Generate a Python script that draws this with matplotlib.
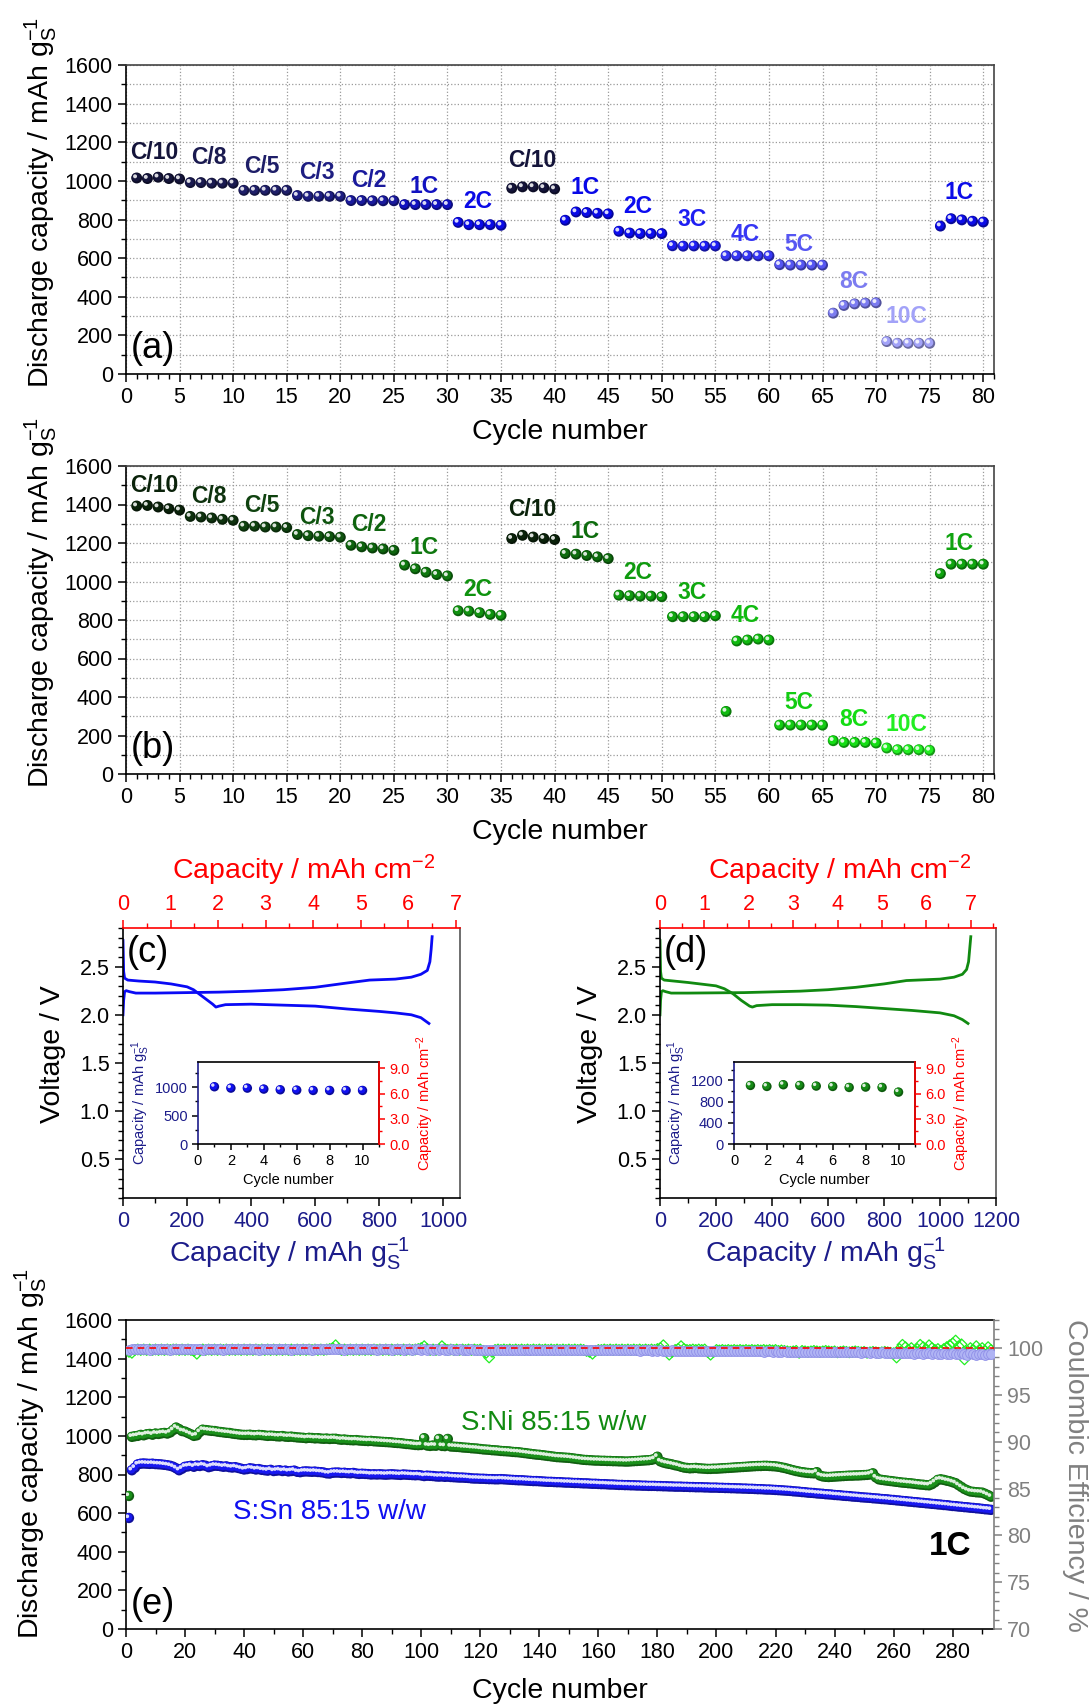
import numpy as np
import matplotlib
matplotlib.use('Agg')
import matplotlib.pyplot as plt
from matplotlib.ticker import MultipleLocator, FormatStrFormatter
from matplotlib.transforms import offset_copy
from matplotlib.colors import to_rgb

plt.rcParams['font.family'] = 'Liberation Sans'
plt.rcParams['mathtext.fontset'] = 'custom'
plt.rcParams['mathtext.rm'] = 'Liberation Sans'
plt.rcParams['mathtext.it'] = 'Liberation Sans:italic'
plt.rcParams['mathtext.bf'] = 'Liberation Sans:bold'

# ---------------- data: rate tests (a) S:Sn, (b) S:Ni ----------------
cycles_rate = np.arange(1, 81)
cap_sn_rate = [1015, 1012, 1019, 1012, 1010, 991, 991, 988, 988, 988,
               951, 951, 951, 951, 951, 924, 920, 920, 920, 920,
               898, 898, 897, 897, 897, 877, 877, 877, 877, 877,
               785, 773, 773, 773, 770, 962, 969, 969, 964, 958,
               796, 839, 836, 832, 829, 739, 730, 727, 727, 727,
               664, 662, 663, 662, 663, 612, 612, 612, 612, 612,
               566, 564, 564, 564, 564, 315, 355, 363, 367, 369,
               168, 159, 159, 159, 159, 766, 804, 798, 791, 787]
cap_ni_rate = [1392, 1395, 1387, 1378, 1371, 1338, 1335, 1330, 1323, 1318,
               1287, 1287, 1283, 1283, 1280, 1244, 1238, 1235, 1233, 1230,
               1188, 1180, 1174, 1169, 1162, 1085, 1066, 1048, 1036, 1029,
               848, 846, 838, 829, 824, 1223, 1240, 1231, 1223, 1218,
               1145, 1142, 1135, 1128, 1119, 929, 926, 924, 924, 921,
               817, 817, 817, 817, 822, 325, 691, 696, 701, 696,
               254, 254, 254, 254, 254, 173, 164, 164, 164, 161,
               135, 126, 126, 126, 123, 1041, 1090, 1090, 1090, 1090]
rate_labels = ['C/10', 'C/8', 'C/5', 'C/3', 'C/2', '1C', '2C', 'C/10',
               '1C', '2C', '3C', '4C', '5C', '8C', '10C', '1C']
label_x = [2.6, 7.7, 12.7, 17.8, 22.7, 27.8, 32.8, 37.9,
           42.8, 47.8, 52.8, 57.8, 62.8, 67.9, 72.8, 77.7]
sn_label_y = [1148, 1122, 1075, 1044, 1003, 971, 893, 1106,
              966, 868, 800, 722, 670, 478, 296, 940]
ni_label_y = [1501, 1444, 1397, 1335, 1294, 1179, 956, 1374,
              1262, 1049, 945, 821, 374, 281, 255, 1195]
sn_colors = ['#14143a', '#1a1a50', '#1e1e68', '#1e1e82', '#1a1a9c', '#1212c0', '#0a0ae6', '#14143a',
             '#0808e8', '#0c0cf0', '#1e1ef2', '#3636f4', '#5656f2', '#7c7cf0', '#a2a2f8', '#0c0ce8']
ni_colors = ['#0a220a', '#0e320e', '#0f420f', '#0f540f', '#0e640e', '#0f780f', '#0f920f', '#0a220a',
             '#0e6c0e', '#0f9a0f', '#0fa80f', '#10ba10', '#12cc12', '#14dd14', '#22ee22', '#10a410']

# ---------------- data: voltage profiles (c) S:Sn, (d) S:Ni ----------------
sn_dis_cap = [0, 2, 5, 15, 50, 100, 150, 200, 220, 240, 260, 280, 290, 300, 320, 400, 500, 600, 700, 800, 850, 900, 930, 955]
sn_dis_v = [2.77, 2.45, 2.38, 2.36, 2.35, 2.34, 2.32, 2.29, 2.26, 2.21, 2.16, 2.11, 2.08, 2.09, 2.105, 2.11, 2.10, 2.09, 2.06, 2.035, 2.02, 2.0, 1.97, 1.91]
sn_cha_cap = [0, 2, 5, 10, 20, 40, 100, 200, 300, 400, 500, 600, 700, 770, 850, 900, 930, 950, 958, 962, 965]
sn_cha_v = [2.0, 2.15, 2.24, 2.25, 2.24, 2.225, 2.225, 2.23, 2.235, 2.245, 2.26, 2.285, 2.33, 2.36, 2.37, 2.39, 2.42, 2.46, 2.55, 2.68, 2.81]
ni_dis_cap = [0, 2, 5, 15, 100, 200, 230, 260, 290, 320, 330, 345, 400, 500, 600, 700, 800, 900, 1000, 1050, 1080, 1100]
ni_dis_v = [2.77, 2.45, 2.38, 2.36, 2.335, 2.30, 2.27, 2.22, 2.15, 2.09, 2.08, 2.095, 2.105, 2.105, 2.10, 2.085, 2.065, 2.045, 2.02, 1.99, 1.95, 1.91]
ni_cha_cap = [0, 2, 5, 10, 20, 40, 100, 300, 500, 600, 700, 800, 880, 1000, 1050, 1080, 1095, 1102, 1106, 1110]
ni_cha_v = [2.0, 2.15, 2.24, 2.25, 2.24, 2.225, 2.225, 2.23, 2.245, 2.26, 2.285, 2.32, 2.355, 2.37, 2.39, 2.42, 2.47, 2.55, 2.68, 2.81]
inset_cycles = np.arange(1, 11)
sn_inset_cap = [1006, 982, 982, 965, 953, 947, 941, 941, 941, 941]
ni_inset_cap = [1105, 1086, 1118, 1105, 1093, 1086, 1067, 1074, 1067, 979]

# ---------------- data: long cycling at 1C (e) ----------------
cycles_long = np.arange(1, 294)
cap_sn_long = [575, 822, 835, 852, 856, 857, 856, 855, 856, 854,
               853, 852, 850, 848, 845, 840, 832, 822, 830, 840,
               842, 845, 840, 846, 844, 848, 845, 838, 842, 846,
               845, 843, 840, 842, 838, 836, 838, 834, 830, 826,
               828, 832, 830, 826, 828, 824, 822, 820, 824, 818,
               820, 822, 818, 820, 816, 818, 820, 814, 812, 815,
               816, 815, 814, 815, 813, 812, 810, 806, 805, 809,
               810, 810, 808, 809, 807, 806, 808, 805, 803, 804,
               803, 802, 800, 801, 800, 801, 800, 799, 800, 801,
               800, 799, 798, 800, 799, 798, 797, 796, 797, 795,
               792, 794, 793, 792, 790, 789, 790, 788, 789, 787,
               786, 785, 784, 784, 783, 782, 780, 779, 779, 778,
               778, 777, 776, 776, 775, 775, 776, 775, 774, 773,
               772, 771, 770, 770, 769, 768, 767, 766, 766, 765,
               764, 763, 762, 762, 761, 760, 760, 759, 758, 758,
               757, 756, 756, 755, 754, 754, 753, 752, 752, 751,
               750, 750, 749, 748, 748, 747, 746, 746, 745, 745,
               744, 744, 743, 743, 742, 742, 741, 741, 741, 740,
               740, 739, 739, 738, 738, 737, 737, 737, 736, 736,
               735, 735, 734, 734, 734, 733, 733, 732, 732, 732,
               731, 731, 730, 730, 729, 729, 728, 728, 727, 727,
               726, 726, 725, 724, 724, 723, 722, 722, 721, 720,
               719, 718, 717, 716, 715, 713, 712, 711, 709, 708,
               706, 705, 704, 702, 701, 700, 698, 697, 696, 694,
               693, 692, 690, 689, 688, 686, 685, 684, 682, 681,
               680, 679, 677, 676, 675, 673, 672, 671, 669, 668,
               666, 665, 663, 662, 660, 659, 657, 656, 654, 653,
               651, 650, 648, 647, 645, 644, 642, 641, 639, 637,
               636, 634, 633, 631, 630, 628, 627, 625, 624, 622,
               620, 619, 617]
cap_ni_long = [689, 995, 998, 1000, 1005, 1003, 1008, 1010, 1006, 1012,
               1010, 1013, 1015, 1012, 1018, 1030, 1043, 1035, 1025, 1022,
               1015, 1008, 1000, 1003, 1020, 1032, 1030, 1028, 1026, 1025,
               1022, 1020, 1018, 1016, 1015, 1012, 1010, 1008, 1006, 1005,
               1005, 1006, 1004, 1003, 1005, 1004, 1002, 1000, 1001, 1000,
               998, 997, 999, 996, 995, 996, 994, 992, 991, 990,
               988, 990, 989, 987, 988, 986, 985, 986, 984, 985,
               985, 982, 980, 981, 979, 978, 977, 978, 976, 975,
               974, 973, 974, 972, 971, 970, 969, 968, 967, 966,
               964, 963, 962, 960, 958, 957, 955, 953, 952, 953,
               988, 950, 948, 950, 949, 984, 948, 947, 984, 945,
               944, 943, 942, 940, 939, 938, 936, 935, 934, 932,
               930, 929, 928, 926, 925, 924, 922, 921, 920, 919,
               917, 916, 915, 913, 911, 909, 907, 905, 903, 902,
               900, 898, 896, 894, 892, 890, 889, 888, 887, 886,
               884, 882, 880, 878, 876, 875, 874, 873, 872, 872,
               871, 871, 870, 870, 869, 869, 868, 868, 867, 867,
               868, 869, 870, 871, 872, 873, 874, 876, 880, 892,
               868, 862, 858, 855, 852, 848, 845, 840, 836, 834,
               832, 833, 834, 832, 831, 830, 829, 829, 830, 830,
               831, 832, 833, 834, 835, 836, 837, 838, 839, 840,
               841, 842, 843, 844, 844, 845, 845, 844, 843, 842,
               840, 837, 834, 830, 826, 822, 818, 815, 812, 810,
               808, 807, 806, 812, 795, 790, 788, 787, 788, 789,
               790, 791, 792, 793, 794, 794, 795, 795, 796, 797,
               798, 800, 806, 785, 775, 772, 770, 768, 766, 764,
               762, 760, 758, 757, 755, 754, 752, 750, 748, 747,
               745, 744, 750, 760, 772, 775, 772, 768, 765, 760,
               755, 745, 735, 725, 718, 712, 710, 708, 707, 706,
               700, 693, 685]
ce_sn_long = [99.80, 99.86, 99.88, 99.85, 99.87, 99.89, 99.86, 99.84, 99.87, 99.88,
              99.85, 99.87, 99.89, 99.86, 99.84, 99.87, 99.88, 99.85, 99.86, 99.89,
              99.87, 99.85, 99.86, 99.88, 99.87, 99.84, 99.86, 99.89, 99.87, 99.85,
              99.88, 99.86, 99.84, 99.87, 99.89, 99.86, 99.85, 99.87, 99.88, 99.86,
              99.85, 99.87, 99.89, 99.86, 99.84, 99.87, 99.88, 99.86, 99.85, 99.87,
              99.86, 99.88, 99.85, 99.87, 99.86, 99.84, 99.87, 99.88, 99.86, 99.85,
              99.87, 99.86, 99.84, 99.88, 99.86, 99.85, 99.87, 99.86, 99.88, 99.85,
              99.86, 99.87, 99.85, 99.84, 99.87, 99.86, 99.88, 99.85, 99.86, 99.87,
              99.85, 99.86, 99.88, 99.85, 99.84, 99.86, 99.87, 99.85, 99.86, 99.84,
              99.86, 99.85, 99.87, 99.84, 99.86, 99.85, 99.83, 99.86, 99.85, 99.84,
              99.85, 99.83, 99.86, 99.84, 99.85, 99.83, 99.86, 99.84, 99.82, 99.85,
              99.84, 99.83, 99.85, 99.82, 99.84, 99.83, 99.85, 99.82, 99.84, 99.83,
              99.82, 99.84, 99.83, 99.81, 99.84, 99.82, 99.83, 99.81, 99.83, 99.82,
              99.81, 99.83, 99.82, 99.80, 99.83, 99.81, 99.82, 99.80, 99.82, 99.81,
              99.80, 99.82, 99.81, 99.79, 99.82, 99.80, 99.81, 99.79, 99.81, 99.80,
              99.79, 99.81, 99.78, 99.80, 99.79, 99.77, 99.80, 99.78, 99.79, 99.77,
              99.78, 99.76, 99.79, 99.77, 99.78, 99.76, 99.78, 99.75, 99.77, 99.76,
              99.77, 99.75, 99.76, 99.74, 99.77, 99.75, 99.76, 99.73, 99.75, 99.74,
              99.75, 99.73, 99.74, 99.72, 99.75, 99.73, 99.72, 99.74, 99.71, 99.73,
              99.72, 99.70, 99.73, 99.71, 99.70, 99.72, 99.69, 99.71, 99.70, 99.68,
              99.70, 99.68, 99.71, 99.67, 99.69, 99.68, 99.66, 99.69, 99.67, 99.65,
              99.68, 99.66, 99.64, 99.67, 99.65, 99.63, 99.66, 99.64, 99.62, 99.65,
              99.63, 99.61, 99.64, 99.62, 99.60, 99.63, 99.61, 99.59, 99.62, 99.60,
              99.58, 99.61, 99.59, 99.57, 99.60, 99.58, 99.56, 99.59, 99.57, 99.55,
              99.58, 99.56, 99.54, 99.57, 99.55, 99.53, 99.56, 99.54, 99.52, 99.55,
              99.53, 99.50, 99.54, 99.51, 99.48, 99.53, 99.50, 99.46, 99.52, 99.48,
              99.45, 99.51, 99.47, 99.43, 99.50, 99.46, 99.42, 99.49, 99.44, 99.40,
              99.48, 99.43, 99.38, 99.47, 99.42, 99.36, 99.46, 99.40, 99.34, 99.45,
              99.39, 99.33, 99.44, 99.38, 99.31, 99.43, 99.37, 99.30, 99.42, 99.36,
              99.30, 99.41, 99.35]
ce_ni_long = [99.6, 99.5, 99.8, 99.85, 99.8, 99.85, 99.8, 99.85, 99.8, 99.85,
              99.8, 99.85, 99.8, 99.85, 99.8, 99.85, 99.85, 99.8, 99.85, 99.8,
              99.85, 99.8, 99.7, 99.4, 99.8, 99.85, 99.8, 99.85, 99.8, 99.85,
              99.8, 99.85, 99.8, 99.85, 99.8, 99.85, 99.8, 99.85, 99.8, 99.85,
              99.8, 99.85, 99.8, 99.85, 99.8, 99.85, 99.8, 99.85, 99.8, 99.85,
              99.8, 99.85, 99.8, 99.85, 99.8, 99.85, 99.8, 99.85, 99.8, 99.85,
              99.8, 99.85, 99.8, 99.85, 99.8, 99.85, 99.8, 99.85, 99.9, 100.0,
              100.3, 99.9, 99.8, 99.85, 99.8, 99.85, 99.8, 99.85, 99.8, 99.85,
              99.8, 99.85, 99.8, 99.85, 99.8, 99.85, 99.8, 99.85, 99.8, 99.85,
              99.8, 99.85, 99.8, 99.85, 99.8, 99.85, 99.8, 99.85, 99.9, 100.0,
              100.2, 99.9, 99.8, 99.85, 99.8, 99.85, 100.2, 99.9, 99.8, 99.85,
              99.8, 99.85, 99.8, 99.85, 99.8, 99.85, 99.8, 99.85, 99.8, 99.85,
              99.7, 99.5, 99.0, 99.6, 99.8, 99.85, 99.8, 99.85, 99.8, 99.85,
              99.8, 99.85, 99.8, 99.85, 99.8, 99.85, 99.8, 99.85, 99.8, 99.85,
              99.8, 99.85, 99.8, 99.85, 99.8, 99.85, 99.8, 99.85, 99.8, 99.85,
              99.8, 99.85, 99.8, 99.85, 99.8, 99.7, 99.6, 99.4, 99.7, 99.8,
              99.8, 99.85, 99.8, 99.85, 99.8, 99.85, 99.8, 99.85, 99.8, 99.85,
              99.8, 99.85, 99.8, 99.85, 99.8, 99.85, 99.8, 99.85, 99.8, 99.9,
              100.0, 100.3, 99.7, 99.3, 99.6, 99.8, 99.9, 100.2, 99.9, 99.8,
              99.8, 99.85, 99.8, 99.85, 99.8, 99.85, 99.6, 99.3, 99.6, 99.8,
              99.75, 99.8, 99.75, 99.8, 99.75, 99.8, 99.75, 99.8, 99.75, 99.8,
              99.75, 99.8, 99.75, 99.8, 99.75, 99.8, 99.75, 99.8, 99.75, 99.8,
              99.7, 99.75, 99.7, 99.65, 99.6, 99.65, 99.7, 99.5, 99.7, 99.65,
              99.6, 99.65, 99.7, 99.65, 99.6, 99.65, 99.7, 99.65, 99.6, 99.65,
              99.55, 99.6, 99.65, 99.6, 99.55, 99.6, 99.65, 99.6, 99.55, 99.6,
              99.5, 99.55, 99.6, 99.55, 99.5, 99.55, 99.6, 99.55, 99.5, 99.45,
              99.0, 99.9, 100.35, 100.1, 99.8, 100.0, 99.7, 99.9, 100.35, 100.1,
              99.9, 100.3, 100.0, 99.8, 99.9, 99.7, 99.9, 100.1, 100.3, 100.5,
              100.8, 100.2, 100.4, 98.8, 99.7, 100.0, 99.8, 100.2, 99.8, 100.0,
              99.7, 100.1, 99.8]

# ---------------- layout helpers (pixel boxes of the 1092x1707 canvas) ----------------
W, H = 1092, 1707
fig = plt.figure(figsize=(W / 100, H / 100), dpi=100)


def box(l, t, r, b):
    return [l / W, 1 - b / H, (r - l) / W, (b - t) / H]


def ftext(x, y, s, **kw):
    fig.text(x / W, 1 - y / H, s, ha='center', va='center', **kw)


def darker(c, f):
    return tuple(v * f for v in to_rgb(c))


def balls(ax, x, y, colors, s):
    if isinstance(colors, str):
        colors = [colors] * len(x)
    ax.scatter(x, y, s=s, c=[darker(c, 0.65) for c in colors], edgecolors='none', zorder=3)
    tr1 = offset_copy(ax.transData, fig=fig, x=-0.5, y=0.5, units='points')
    ax.scatter(x, y, s=s * 0.62, c=colors, edgecolors='none', zorder=4, transform=tr1)
    tr2 = offset_copy(ax.transData, fig=fig, x=-1.2, y=1.2, units='points')
    ax.scatter(x, y, s=s * 0.13, c='white', alpha=0.85, edgecolors='none', zorder=5, transform=tr2)


def style(ax, size=15.5, major=6, minor=3.5):
    ax.tick_params(which='major', direction='out', length=major, width=1.1, labelsize=size)
    ax.tick_params(which='minor', direction='out', length=minor, width=1.0)
    for sp in ax.spines.values():
        sp.set_linewidth(1.2)


LBL = 20.5
sub = r'g$_\mathregular{S}^\mathregular{-1}$'

# ---------------- (a) and (b) rate capability ----------------
for top, bottom, caps, cols, ly, tag in [(65, 374, cap_sn_rate, sn_colors, sn_label_y, '(a)'),
                                         (466, 774, cap_ni_rate, ni_colors, ni_label_y, '(b)')]:
    ax = fig.add_axes(box(126, top, 994, bottom))
    ax.set_xlim(0, 81)
    ax.set_ylim(0, 1600)
    ax.xaxis.set_major_locator(MultipleLocator(5))
    ax.xaxis.set_minor_locator(MultipleLocator(1))
    ax.yaxis.set_major_locator(MultipleLocator(200))
    ax.yaxis.set_minor_locator(MultipleLocator(100))
    ax.grid(axis='x', which='major', ls=':', color='#9a9a9a', lw=0.9)
    ax.grid(axis='y', which='both', ls=':', color='#9a9a9a', lw=0.9)
    ax.set_axisbelow(True)
    style(ax)
    for sp in ['top', 'right']:
        ax.spines[sp].set_color('#444444')
    pt_cols = [cols[(c - 1) // 5] for c in cycles_rate]
    balls(ax, cycles_rate, caps, pt_cols, 62)
    for lab, x, y, c in zip(rate_labels, label_x, ly, cols):
        ax.text(x, y, lab, color=c, fontsize=16.5, fontweight='bold', ha='center', va='center')
    ax.text(0.006, 0.082, tag, transform=ax.transAxes, fontsize=26, ha='left', va='center')
    mid = (top + bottom) / 2
    ftext(41, mid - 17, 'Discharge capacity / mAh ' + sub, fontsize=LBL, rotation=90)
    ftext(560, bottom + 58, 'Cycle number', fontsize=LBL)

# ---------------- (c) and (d) voltage profiles with insets ----------------
navy = '#1c1c8a'
panels = [(123, 460, 1052, 7.09, sn_dis_cap, sn_dis_v, sn_cha_cap, sn_cha_v, '#0a0af5',
           sn_inset_cap, 1441, 500, 250, (198, 379), '(c)', '#1010f0'),
          (660, 996, 1200, 7.571, ni_dis_cap, ni_dis_v, ni_cha_cap, ni_cha_v, '#118a11',
           ni_inset_cap, 1547, 400, 200, (734, 915), '(d)', '#168c16')]
for (l, r, xmax, tmax, dc, dv, cc, cv, lc, icap, itop, imaj, imin, ixr, tag, bc) in panels:
    ax = fig.add_axes(box(l, 928, r, 1198))
    ax.plot(dc, dv, color=lc, lw=2)
    ax.plot(cc, cv, color=lc, lw=2)
    ax.set_xlim(0, xmax)
    ax.set_ylim(0.1, 2.9)
    ax.xaxis.set_major_locator(MultipleLocator(200))
    ax.xaxis.set_minor_locator(MultipleLocator(100))
    ax.yaxis.set_major_locator(MultipleLocator(0.5))
    ax.yaxis.set_minor_locator(MultipleLocator(0.1))
    ax.yaxis.set_major_formatter(FormatStrFormatter('%.1f'))
    style(ax)
    ax.tick_params(axis='x', labelcolor=navy)
    ax.spines['top'].set_visible(False)
    ax.spines['right'].set_color('#555555')
    ax.text(0.012, 0.91, tag, transform=ax.transAxes, fontsize=26, ha='left', va='center')
    tx = ax.twiny()
    tx.set_xlim(0, tmax)
    tx.xaxis.set_major_locator(MultipleLocator(1))
    tx.xaxis.set_minor_locator(MultipleLocator(0.5))
    style(tx)
    tx.tick_params(axis='x', which='both', colors='red')
    for sp in ['left', 'right', 'bottom']:
        tx.spines[sp].set_visible(False)
    tx.spines['top'].set_color('red')
    cx = (l + r) / 2
    ftext(l - 70, 1054, 'Voltage / V', fontsize=LBL, rotation=90)
    ftext(cx - 2, 1254, 'Capacity / mAh ' + sub, fontsize=LBL, color=navy)
    ftext(cx + 12, 870, 'Capacity / mAh cm$^\\mathregular{-2}$', fontsize=LBL, color='red')

    ia = fig.add_axes(box(ixr[0], 1062, ixr[1], 1144))
    balls(ia, inset_cycles, icap, bc, 46)
    ia.set_xlim(0, 11)
    ia.set_ylim(0, itop)
    ia.xaxis.set_major_locator(MultipleLocator(2))
    ia.xaxis.set_minor_locator(MultipleLocator(1))
    ia.yaxis.set_major_locator(MultipleLocator(imaj))
    ia.yaxis.set_minor_locator(MultipleLocator(imin))
    style(ia, size=10.5, major=4, minor=2.5)
    ia.tick_params(axis='y', labelcolor=navy)
    ia.spines['left'].set_color(navy)
    ia.set_xlabel('Cycle number', fontsize=10.5, labelpad=3)
    ia.set_ylabel('Capacity / mAh ' + sub, fontsize=10.5, color=navy, labelpad=2)
    ir = ia.twinx()
    ir.set_ylim(0, 9.76)
    ir.yaxis.set_major_locator(MultipleLocator(3))
    ir.yaxis.set_minor_locator(MultipleLocator(1.5))
    ir.yaxis.set_major_formatter(FormatStrFormatter('%.1f'))
    style(ir, size=10.5, major=4, minor=2.5)
    ir.tick_params(axis='y', which='both', colors='red')
    for sp in ['left', 'top', 'bottom']:
        ir.spines[sp].set_visible(False)
    ir.spines['right'].set_color('red')
    ir.set_ylabel('Capacity / mAh cm$^\\mathregular{-2}$', fontsize=10.5, color='red', labelpad=3)

# ---------------- (e) long-term cycling ----------------
ax = fig.add_axes(box(126, 1320, 994, 1629))
ax.set_xlim(0, 294)
ax.set_ylim(0, 1600)
ax.xaxis.set_major_locator(MultipleLocator(20))
ax.xaxis.set_minor_locator(MultipleLocator(10))
ax.yaxis.set_major_locator(MultipleLocator(200))
ax.yaxis.set_minor_locator(MultipleLocator(100))
style(ax)
ax.spines['right'].set_visible(False)
balls(ax, cycles_long, cap_ni_long, '#1a901a', 56)
balls(ax, cycles_long, cap_sn_long, '#1818f0', 56)
ax.text(145, 1067, 'S:Ni 85:15 w/w', color='#118a11', fontsize=20, ha='center', va='center')
ax.text(69, 606, 'S:Sn 85:15 w/w', color='#1010f0', fontsize=20, ha='center', va='center')
ax.text(279, 426, '1C', color='black', fontsize=24, fontweight='bold', ha='center', va='center')
ax.text(0.006, 0.078, '(e)', transform=ax.transAxes, fontsize=26, ha='left', va='center')

ce = ax.twinx()
ce.set_ylim(70, 103)
ce.yaxis.set_major_locator(MultipleLocator(5))
ce.yaxis.set_minor_locator(MultipleLocator(1))
style(ce)
gray = '#808080'
ce.tick_params(axis='y', which='both', colors=gray, labelcolor=gray)
for sp in ['left', 'top', 'bottom']:
    ce.spines[sp].set_visible(False)
ce.spines['right'].set_color(gray)
ce.scatter(cycles_long, ce_ni_long, s=30, marker='D', facecolors='none', edgecolors='#22ee22', linewidths=0.9, zorder=2)
ce.scatter(cycles_long, ce_sn_long, s=50, facecolors='#b0b4f4', edgecolors='#9090e8', linewidths=0.6, zorder=3)
ce.axhline(100, color='red', ls=(0, (4, 3)), lw=1.2, zorder=4)

ftext(31, 1454, 'Discharge capacity / mAh ' + sub, fontsize=LBL, rotation=90)
ftext(560, 1691, 'Cycle number', fontsize=LBL)
ftext(1075, 1475, 'Coulombic Efficiency / %', fontsize=LBL, rotation=270, color=gray)

fig.savefig('out.png', dpi=100)
